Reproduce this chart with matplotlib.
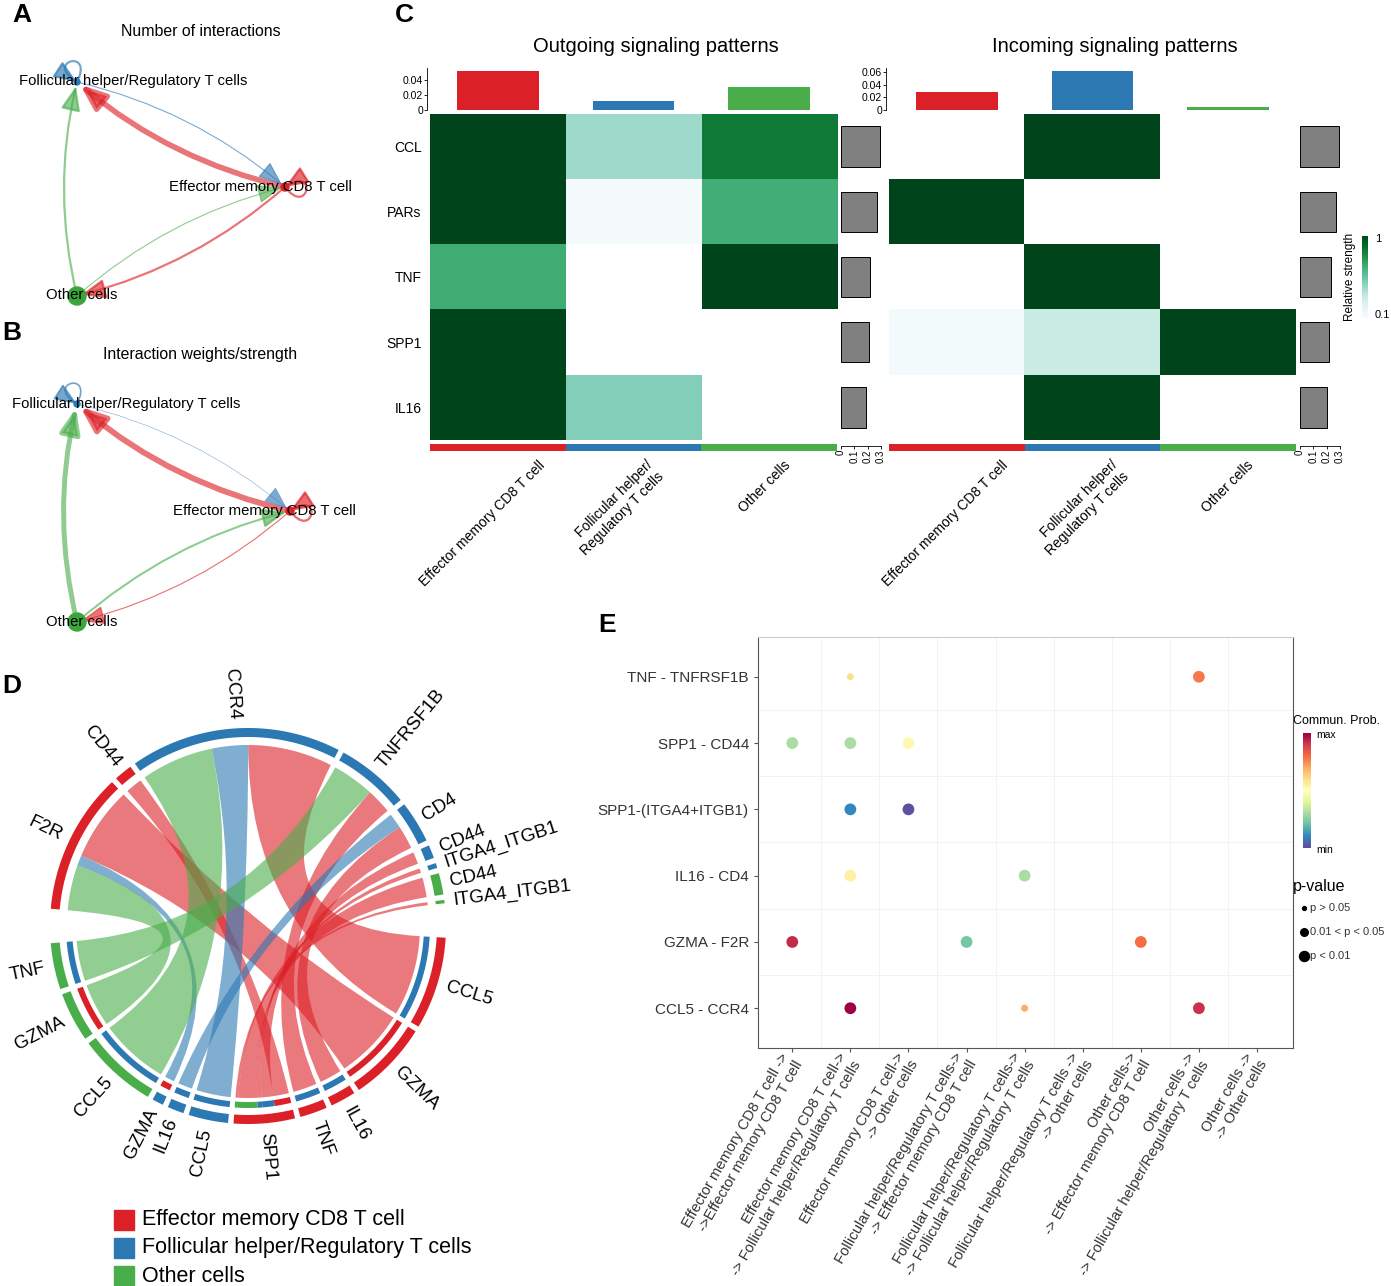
import numpy as np
import matplotlib
matplotlib.use('Agg')
import matplotlib.pyplot as plt
from matplotlib.patches import FancyArrowPatch, PathPatch, Polygon, Rectangle, Circle
from matplotlib.path import Path

plt.rcParams['font.family'] = ['Liberation Sans', 'DejaVu Sans']

# ---------------- data ----------------
cell_types = ['Effector memory CD8 T cell', 'Follicular helper/Regulatory T cells', 'Other cells']
cell_colors = ['#dc2027', '#2b78b3', '#49ad4a']

# A / B: cell-cell communication network
net_source = [0, 0, 0, 1, 1, 2, 2]
net_target = [0, 1, 2, 0, 1, 0, 1]
n_interactions = [2, 5, 2, 1, 2, 1, 2]
interaction_strength = [0.4, 1.0, 0.2, 0.06, 0.3, 0.35, 0.85]
node_size = [4, 3, 9]

# C: signaling role heatmaps
pathways = ['CCL', 'PARs', 'TNF', 'SPP1', 'IL16']
hm_col_labels = ['Effector memory CD8 T cell', 'Follicular helper/\nRegulatory T cells', 'Other cells']
outgoing_strength = [[1.0, 0.36, 0.82],
                     [1.0, 0.02, 0.62],
                     [0.63, 0.0, 1.0],
                     [1.0, 0.0, 0.0],
                     [1.0, 0.43, 0.0]]
incoming_strength = [[0.0, 1.0, 0.0],
                     [1.0, 0.0, 0.0],
                     [0.0, 1.0, 0.0],
                     [0.03, 0.25, 1.0],
                     [0.0, 1.0, 0.0]]
outgoing_cell_total = [0.052, 0.012, 0.031]
incoming_cell_total = [0.028, 0.061, 0.004]
outgoing_pathway_total = [0.29, 0.27, 0.22, 0.21, 0.19]
incoming_pathway_total = [0.29, 0.27, 0.23, 0.22, 0.20]

# D: chord diagram (ligand of source cell -> receptor of target cell)
chord_ligand = ['CCL5', 'GZMA', 'IL16', 'TNF', 'SPP1', 'SPP1', 'SPP1', 'SPP1', 'SPP1',
                'CCL5', 'IL16', 'GZMA', 'CCL5', 'GZMA', 'TNF']
chord_source = [0, 0, 0, 0, 0, 0, 0, 0, 0, 1, 1, 1, 2, 2, 2]
chord_receptor = ['CCR4', 'F2R', 'CD4', 'TNFRSF1B', 'CD44', 'CD44', 'ITGA4_ITGB1', 'CD44', 'ITGA4_ITGB1',
                  'CCR4', 'CD4', 'F2R', 'CCR4', 'F2R', 'TNFRSF1B']
chord_target = [1, 0, 1, 1, 0, 1, 1, 2, 2, 1, 1, 0, 1, 0, 1]
chord_value = [28, 24.5, 7.7, 8.3, 5.5, 4, 1.5, 6.5, 1, 12, 5, 3.4, 24, 15, 14]
receptor_sectors = [('F2R', 0), ('CD44', 0), ('CCR4', 1), ('TNFRSF1B', 1), ('CD4', 1),
                    ('CD44', 1), ('ITGA4_ITGB1', 1), ('CD44', 2), ('ITGA4_ITGB1', 2)]
ligand_sectors = [('CCL5', 0), ('GZMA', 0), ('IL16', 0), ('TNF', 0), ('SPP1', 0),
                  ('CCL5', 1), ('IL16', 1), ('GZMA', 1), ('CCL5', 2), ('GZMA', 2), ('TNF', 2)]

# E: bubble plot
lr_pairs = ['TNF - TNFRSF1B', 'SPP1 - CD44', 'SPP1-(ITGA4+ITGB1)', 'IL16 - CD4', 'GZMA - F2R', 'CCL5 - CCR4']
cell_pair_labels = ['Effector memory CD8 T cell ->\n->Effector memory CD8 T cell',
                    'Effector memory CD8 T cell->\n-> Follicular helper/Regulatory T cells',
                    'Effector memory CD8 T cell->\n-> Other cells',
                    'Follicular helper/Regulatory T cells->\n-> Effector memory CD8 T cell',
                    'Follicular helper/Regulatory T cells->\n-> Follicular helper/Regulatory T cells',
                    'Follicular helper/Regulatory T cells ->\n-> Other cells',
                    'Other cells->\n-> Effector memory CD8 T cell',
                    'Other cells ->\n-> Follicular helper/Regulatory T cells',
                    'Other cells ->\n-> Other cells']
bubble_row = [0, 0, 1, 1, 1, 2, 2, 3, 3, 4, 4, 4, 5, 5, 5]
bubble_col = [2, 8, 1, 2, 3, 2, 3, 2, 5, 1, 4, 7, 2, 5, 8]
bubble_prob = [0.6, 0.78, 0.3, 0.3, 0.52, 0.1, 0.0, 0.55, 0.3, 0.93, 0.22, 0.8, 1.0, 0.7, 0.92]
bubble_pval = [1, 3, 3, 3, 3, 3, 3, 3, 3, 3, 3, 3, 3, 1, 3]
pval_labels = ['p > 0.05', '0.01 < p < 0.05', 'p < 0.01']

# ---------------- figure ----------------
W, H = 1391, 1286
fig = plt.figure(figsize=(W / 100, H / 100), dpi=100)


def px_axes(x0, y0, x1, y1):
    ax = fig.add_axes([x0 / W, 1 - y1 / H, (x1 - x0) / W, (y1 - y0) / H])
    ax.patch.set_alpha(0)
    return ax


bg = px_axes(0, 0, W, H)
bg.set_xlim(0, W)
bg.set_ylim(H, 0)
bg.axis('off')

for lab, x, y in [('A', 22, 15), ('B', 12, 333), ('C', 404, 15), ('D', 12, 686), ('E', 607, 625)]:
    bg.text(x, y, lab, fontsize=19, fontweight='bold', ha='center', va='center')


# ---------------- A / B networks ----------------
def loop_path(p, ang, L=38, spread=42):
    a1, a2 = np.deg2rad(ang - spread), np.deg2rad(ang + spread)
    c1 = (p[0] + L * np.cos(a1), p[1] - L * np.sin(a1))
    c2 = (p[0] + L * np.cos(a2), p[1] - L * np.sin(a2))
    return Path([p, c1, c2, p], [Path.MOVETO, Path.CURVE4, Path.CURVE4, Path.CURVE4])


def draw_net(pos, values, lw_scale, title, title_xy, label_xy):
    loop_ang = [-10, 105, 0]
    head = '-|>,head_length=0.5,head_width=0.2'
    for s, t, v in zip(net_source, net_target, values):
        lw = max(v * lw_scale, 0.4)
        if s == t:
            arr = FancyArrowPatch(path=loop_path(pos[s], loop_ang[s]), arrowstyle=head,
                                  mutation_scale=28, lw=lw, color=cell_colors[s], alpha=0.65)
        else:
            arr = FancyArrowPatch(pos[s], pos[t], connectionstyle='arc3,rad=-0.12',
                                  arrowstyle=head, mutation_scale=30, lw=lw,
                                  color=cell_colors[s], alpha=0.62, shrinkA=0, shrinkB=3)
        bg.add_patch(arr)
    for i, p in enumerate(pos):
        bg.add_patch(Circle(p, node_size[i], color=cell_colors[i] if i != 2 else '#3aa53a', zorder=3))
    for i, (x, y) in enumerate(label_xy):
        bg.text(x, y, cell_types[i], fontsize=10.7, ha='center', va='center', zorder=4)
    bg.text(title_xy[0], title_xy[1], title, fontsize=11.4, ha='center', va='center')


draw_net([(285, 187), (77, 82), (77, 296)], n_interactions, 0.8,
         'Number of interactions', (201, 31), [(260, 187), (133, 81), (82, 295)])
draw_net([(290, 511), (77, 404), (77, 622)], interaction_strength, 4.2,
         'Interaction weights/strength', (200, 354), [(264, 511), (126, 404), (82, 622)])

# ---------------- C heatmaps ----------------
cmap_rs = plt.get_cmap('BuGn').copy()
cmap_rs.set_bad('white')
hm_specs = [
    (outgoing_strength, outgoing_cell_total, outgoing_pathway_total, 430, 837, 841,
     'Outgoing signaling patterns', [0, 0.02, 0.04], 0.056, [40, 12, 14]),
    (incoming_strength, incoming_cell_total, incoming_pathway_total, 889, 1296, 1300,
     'Incoming signaling patterns', [0, 0.02, 0.04, 0.06], 0.066, [44, 18, 18]),
]
for k, (mat, ctot, ptot, x0, x1, bx, title, yt, ymax, offs) in enumerate(hm_specs):
    ax = px_axes(x0, 114, x1, 440)
    ax.imshow(np.ma.masked_less_equal(np.array(mat), 0), cmap=cmap_rs, vmin=0, vmax=1,
              aspect='auto', interpolation='nearest')
    ax.set_xticks([])
    if k == 0:
        ax.set_yticks(range(len(pathways)), pathways, fontsize=10)
        ax.tick_params(axis='y', length=0, pad=6)
    else:
        ax.set_yticks([])
    for sp in ax.spines.values():
        sp.set_visible(False)

    axt = px_axes(x0, 68, x1, 110)
    axt.spines['left'].set_position(('outward', 2))
    axt.bar(range(3), ctot, width=0.6, color=cell_colors)
    axt.set_xlim(-0.5, 2.5)
    axt.set_ylim(0, ymax)
    axt.set_yticks(yt, [f'{v:g}' for v in yt], fontsize=7.5)
    axt.set_xticks([])
    for s in ['top', 'right', 'bottom']:
        axt.spines[s].set_visible(False)
    axt.spines['left'].set_linewidth(0.6)
    axt.tick_params(axis='y', length=2, width=0.6, pad=1)
    bg.text((x0 + bx + 40) / 2, 47, title, fontsize=14.5, ha='center', va='center')

    axr = px_axes(bx, 114, bx + 40, 440)
    axr.spines['bottom'].set_position(('outward', 4))
    axr.barh(range(5), ptot, height=0.62, color='#808080', edgecolor='black', lw=0.7)
    axr.set_ylim(4.5, -0.5)
    axr.set_xlim(0, 0.3)
    axr.set_yticks([])
    axr.set_xticks([0, 0.1, 0.2, 0.3], ['0', '0.1', '0.2', '0.3'], rotation=90, fontsize=7)
    for s in ['top', 'right', 'left']:
        axr.spines[s].set_visible(False)
    axr.spines['bottom'].set_linewidth(0.6)
    axr.tick_params(axis='x', length=2, width=0.6, pad=1)

    axs = px_axes(x0, 444, x1, 451)
    axs.bar(range(3), [1, 1, 1], width=1.0, color=cell_colors)
    axs.set_xlim(-0.5, 2.5)
    axs.set_ylim(0, 1)
    axs.axis('off')

    cw = (x1 - x0) / 3
    for i, lab in enumerate(hm_col_labels):
        bg.text(x0 + (i + 0.5) * cw + offs[i], 458, lab, rotation=45, ha='right', va='top',
                rotation_mode='anchor', fontsize=10)

axc = px_axes(1362, 236, 1368, 318)
axc.imshow(np.linspace(1, 0, 100)[:, None], cmap='BuGn', vmin=0, vmax=1, aspect='auto')
axc.axis('off')
bg.text(1375, 239, '1', fontsize=8, va='center')
bg.text(1375, 315, '0.1', fontsize=8, va='center')
bg.text(1350, 277, 'Relative strength', fontsize=8.5, rotation=90, ha='center', va='center')

# ---------------- D chord diagram ----------------
cx, cy = 248, 926


def polar(r, th):
    t = np.deg2rad(th)
    return (cx + r * np.cos(t), cy - r * np.sin(t))


def arc_pts(r, t1, t2):
    n = max(int(abs(t2 - t1) * 2) + 2, 3)
    return [polar(r, t) for t in np.linspace(t1, t2, n)]


def band(r0, r1, t1, t2, color):
    pts = arc_pts(r1, t1, t2) + arc_pts(r0, t2, t1)
    bg.add_patch(Polygon(pts, closed=True, facecolor=color, edgecolor='none', zorder=3))


n_links = len(chord_value)
small_gap, big_gap = 1.6, 10
scale = (360 - 2 * big_gap - small_gap * (len(receptor_sectors) + len(ligand_sectors) - 2)) / (2 * sum(chord_value))
rec_pos, lig_pos, sectors = {}, {}, []
theta = 180 - big_gap / 2
for name, cell in receptor_sectors:
    idx = [i for i in range(n_links) if chord_receptor[i] == name and chord_target[i] == cell]
    idx.sort(key=lambda i: -chord_source[i])
    start = theta
    for i in idx:
        w = chord_value[i] * scale
        rec_pos[i] = (theta, theta - w)
        theta -= w
    sectors.append((name, cell, start, theta))
    theta -= small_gap
theta = theta + small_gap - big_gap
for name, cell in ligand_sectors:
    idx = [i for i in range(n_links) if chord_ligand[i] == name and chord_source[i] == cell]
    start = theta
    for i in idx:
        w = chord_value[i] * scale
        lig_pos[i] = (theta, theta - w)
        theta -= w
    sectors.append((name, cell, start, theta))
    theta -= small_gap

r_lig, r_rec = 172, 181
for i in range(n_links):
    la1, la2 = lig_pos[i]
    ra1, ra2 = rec_pos[i]
    verts = arc_pts(r_lig, la1, la2)
    codes = [Path.MOVETO] + [Path.LINETO] * (len(verts) - 1)
    verts += [(cx, cy), polar(r_rec, ra1)]
    codes += [Path.CURVE3, Path.CURVE3]
    rp = arc_pts(r_rec, ra1, ra2)[1:]
    verts += rp
    codes += [Path.LINETO] * len(rp)
    verts += [(cx, cy), polar(r_lig, la1)]
    codes += [Path.CURVE3, Path.CURVE3]
    bg.add_patch(PathPatch(Path(verts, codes), facecolor=cell_colors[chord_source[i]],
                           edgecolor='none', alpha=0.6, zorder=2))
    band(176, 182, la1, la2, cell_colors[chord_target[i]])

for name, cell, t1, t2 in sectors:
    band(189, 198, t1, t2, cell_colors[cell])
    m = (t1 + t2) / 2
    x, y = polar(207, m)
    if -90 <= m <= 90:
        bg.text(x, y, name, rotation=m, ha='left', va='center', rotation_mode='anchor', fontsize=13.5)
    else:
        bg.text(x, y, name, rotation=m - 180, ha='right', va='center', rotation_mode='anchor', fontsize=13.5)

for i, name in enumerate(cell_types):
    yy = 1220 + i * 28
    bg.add_patch(Rectangle((114, yy - 10), 20, 20, color=cell_colors[i]))
    bg.text(142, yy, name, fontsize=15.5, va='center')

# ---------------- E bubble plot ----------------
axe = px_axes(758, 637, 1293, 1048)
size_map = {1: 25, 2: 45, 3: 72}
axe.scatter(bubble_col, np.array(bubble_row) + 1, s=[size_map[p] for p in bubble_pval],
            c=bubble_prob, cmap='Spectral_r', vmin=0, vmax=1, edgecolors='none', zorder=3)
axe.set_xlim(0.41, 9.62)
axe.set_ylim(6.6, 0.4)
axe.set_xticks(range(1, len(cell_pair_labels) + 1), cell_pair_labels, rotation=60, ha='right',
               va='center', rotation_mode='anchor', fontsize=10.6, color='#333333', linespacing=1.15)
axe.set_yticks(range(1, len(lr_pairs) + 1), lr_pairs, fontsize=11, color='#333333')
axe.set_xticks(np.arange(1.5, 9.5, 1), minor=True)
axe.set_yticks(np.arange(1.5, 6.5, 1), minor=True)
axe.grid(which='minor', color='#f2f2f2', lw=0.7)
axe.tick_params(which='minor', length=0)
axe.tick_params(which='major', length=3, color='#555555')
axe.tick_params(axis='x', pad=4)
for s, sp in axe.spines.items():
    sp.set_color('#cccccc' if s == 'top' else '#555555')
    sp.set_linewidth(0.8)

axg = px_axes(1303, 733, 1311, 848)
axg.imshow(np.linspace(1, 0, 100)[:, None], cmap='Spectral_r', aspect='auto')
axg.axis('off')
bg.text(1293, 721, 'Commun. Prob.', fontsize=9, va='center')
bg.text(1316, 735, 'max', fontsize=7.5, va='center')
bg.text(1316, 850, 'min', fontsize=7.5, va='center')
bg.text(1293, 886, 'p-value', fontsize=11.5, va='center')
for i, lab in enumerate(pval_labels):
    yy = 908 + i * 24
    bg.scatter([1304], [yy], s=[8, 30, 52][i], color='black')
    bg.text(1310, yy, lab, fontsize=8, va='center', color='#333333')

fig.savefig('out.png', dpi=100)
